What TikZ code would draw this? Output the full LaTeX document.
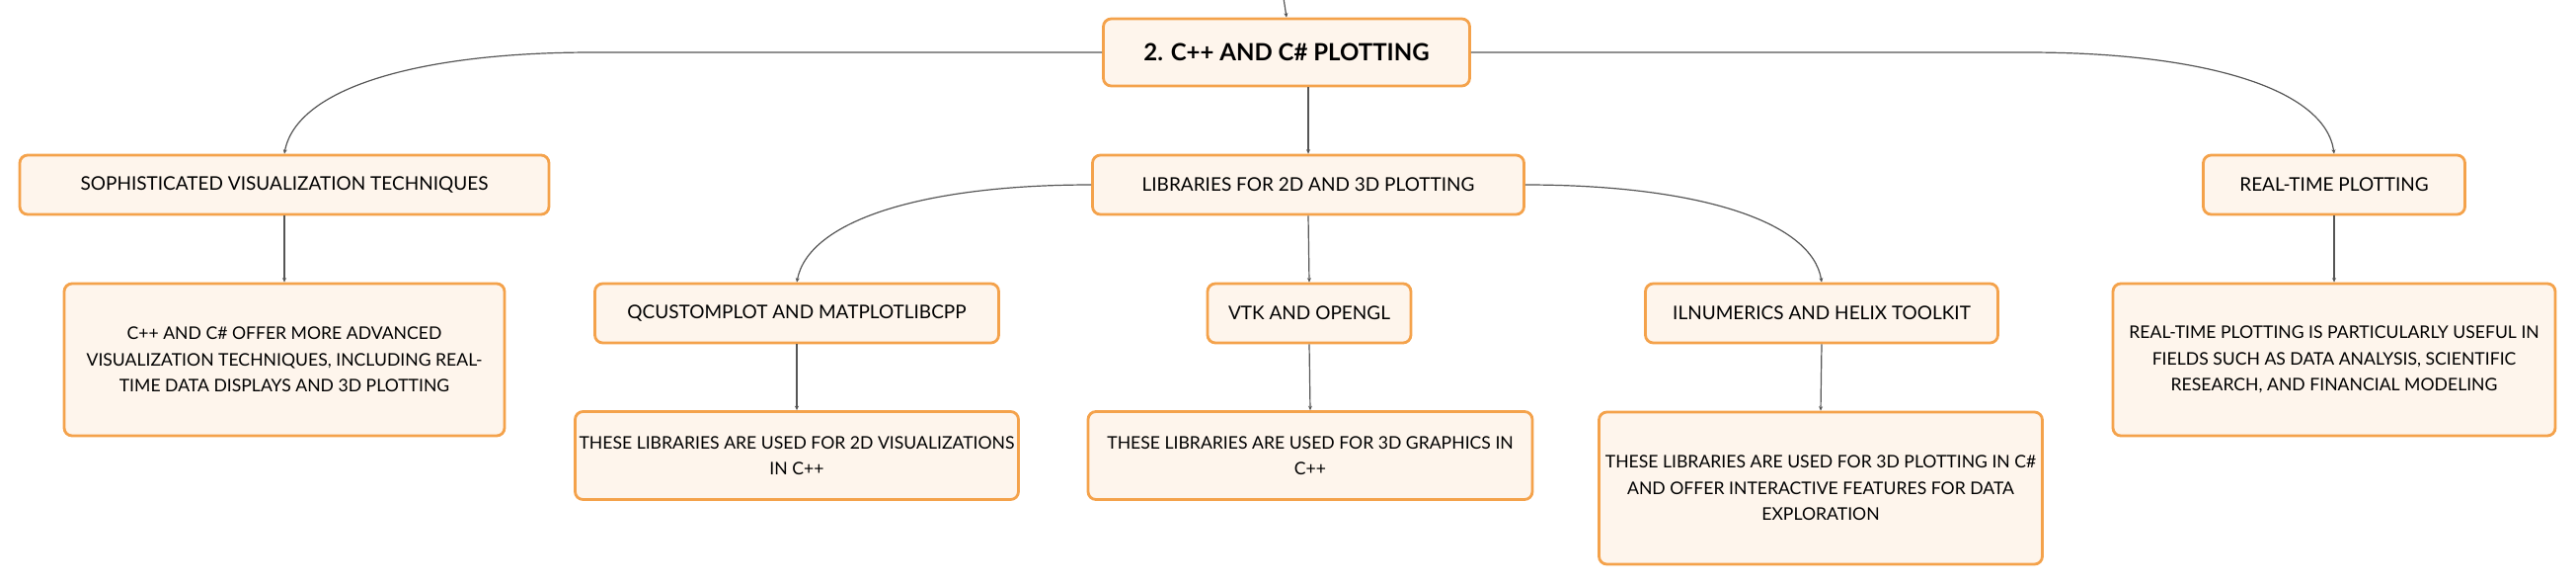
\documentclass[tikz,border=0pt]{standalone}
\usepackage{fontspec}
\setmainfont{Lato}
\usepackage{xcolor}
\usetikzlibrary{arrows.meta}
\definecolor{boxedge}{HTML}{F4A24B}
\definecolor{boxfill}{HTML}{FEF5EC}
\definecolor{linkgray}{HTML}{555555}
\tikzset{
  box/.style={draw=boxedge, fill=boxfill, line width=1.4pt, rounded corners=4pt, align=center, inner sep=2pt, font=\fontsize{9.5}{13.3}\selectfont},
  topic/.style={box, minimum height=30pt},
  note/.style={box, minimum height=77pt, font=\fontsize{8.8}{13.3}\selectfont},
  shortnote/.style={note, minimum height=44.5pt},
  link/.style={draw=linkgray, line width=0.6pt, -{Stealth[length=2.2pt,width=2pt]}}
}
\begin{document}
\begin{tikzpicture}[x=0.5pt,y=-0.5pt]
\useasboundingbox (0,0) rectangle (2609,591);
\node[box, minimum width=185.5pt, minimum height=34pt, font=\fontsize{12}{14}\selectfont\bfseries] (title) at (1303,53) {2. C++ AND C\# PLOTTING};
\node[topic, minimum width=268pt] (soph) at (288,187) {SOPHISTICATED VISUALIZATION TECHNIQUES};
\node[topic, minimum width=218.5pt] (libs) at (1325,187) {LIBRARIES FOR 2D AND 3D PLOTTING};
\node[topic, minimum width=132.5pt] (realtime) at (2364,187) {REAL-TIME PLOTTING};
\node[note, minimum width=223pt] (sophtext) at (288,364) {C++ AND C\# OFFER MORE ADVANCED\\VISUALIZATION TECHNIQUES, INCLUDING REAL-\\TIME DATA DISPLAYS AND 3D PLOTTING};
\node[topic, minimum width=204.5pt] (qcp) at (807,317) {QCUSTOMPLOT AND MATPLOTLIBCPP};
\node[topic, minimum width=103pt] (vtk) at (1326,317) {VTK AND OPENGL};
\node[topic, minimum width=178.5pt] (ilnum) at (1845,317) {ILNUMERICS AND HELIX TOOLKIT};
\node[shortnote, minimum width=224.5pt] (qcptext) at (807,461) {THESE LIBRARIES ARE USED FOR 2D VISUALIZATIONS\\IN C++};
\node[shortnote, minimum width=225pt] (vtktext) at (1327,461) {THESE LIBRARIES ARE USED FOR 3D GRAPHICS IN\\C++};
\node[note, minimum width=224.5pt] (ilnumtext) at (1844,494) {THESE LIBRARIES ARE USED FOR 3D PLOTTING IN C\#\\AND OFFER INTERACTIVE FEATURES FOR DATA\\EXPLORATION};
\node[note, minimum width=224pt] (realtimetext) at (2364,364) {REAL-TIME PLOTTING IS PARTICULARLY USEFUL IN\\FIELDS SUCH AS DATA ANALYSIS, SCIENTIFIC\\RESEARCH, AND FINANCIAL MODELING};
\coordinate (above) at (1300,-2);
\draw[link] (above) -- (title.north);
\draw[link] (title.west) -- (600,53) .. controls (421,53) and (300,90) .. (soph.north);
\draw[link] (title.east) -- (2053,53) .. controls (2233,53) and (2355,90) .. (realtime.north);
\draw[link] (libs.north |- title.south) -- (libs.north);
\draw[link] (libs.west) .. controls (935,187) and (819,223) .. (qcp.north);
\draw[link] (libs.east) .. controls (1717,187) and (1835,223) .. (ilnum.north);
\draw[link] (soph.south) -- (sophtext.north);
\draw[link] (libs.south) -- (vtk.north);
\draw[link] (realtime.south) -- (realtimetext.north);
\draw[link] (qcp.south) -- (qcptext.north);
\draw[link] (vtk.south) -- (vtktext.north);
\draw[link] (ilnum.south) -- (ilnumtext.north);
\end{tikzpicture}
\end{document}
